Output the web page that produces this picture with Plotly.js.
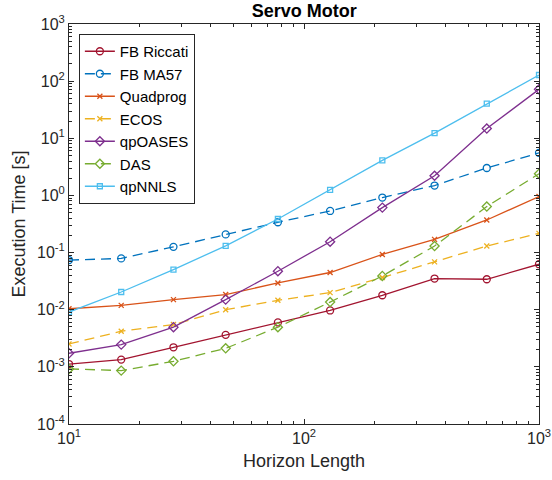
<!DOCTYPE html>
<html>
<head>
<meta charset="utf-8">
<script src="https://cdn.plot.ly/plotly-3.0.1.min.js"></script>
<style>html,body{margin:0;padding:0;background:#fff;}#chart{width:552px;height:480px;}</style>
</head>
<body>
<div id="chart"></div>
<script>
const horizon = [10, 16.68, 27.83, 46.42, 77.43, 129.15, 215.44, 359.38, 599.48, 1000];

const fbRiccati = [0.00112, 0.00134, 0.0022, 0.00363, 0.00598, 0.0097, 0.0179, 0.0351, 0.0341, 0.0626];
const fbMA57    = [0.074, 0.079, 0.126, 0.208, 0.339, 0.535, 0.918, 1.49, 3.02, 5.54];
const quadprog  = [0.0104, 0.0119, 0.015, 0.0184, 0.0294, 0.0448, 0.0927, 0.170, 0.372, 0.957];
const ecos      = [0.00252, 0.0042, 0.0055, 0.0100, 0.0146, 0.0199, 0.0366, 0.0687, 0.130, 0.217];
const qpOASES   = [0.00173, 0.00245, 0.00495, 0.015, 0.0472, 0.155, 0.612, 2.21, 14.8, 71.9];
const das       = [0.00092, 0.00086, 0.00125, 0.00211, 0.00495, 0.0136, 0.039, 0.13, 0.638, 2.40];
const qpNNLS    = [0.0091, 0.0204, 0.0505, 0.131, 0.387, 1.25, 4.11, 12.3, 40.3, 128];

const xTickExp = [1, 2, 3];
const yTickExp = [-4, -3, -2, -1, 0, 1, 2, 3];
const xTickVals = xTickExp.map(e => Math.pow(10, e));
const yTickVals = yTickExp.map(e => Math.pow(10, e));
const fmtExp = e => '10<sup>' + (e < 0 ? '-' + Math.abs(e) : e) + '</sup>';
const xTickText = xTickExp.map(fmtExp);
const yTickText = yTickExp.map(fmtExp);

const seriesDefs = [
  {name: 'FB Riccati', y: fbRiccati, color: '#A2142F', dash: 'solid', symbol: 'circle-open', size: 7},
  {name: 'FB MA57',    y: fbMA57,    color: '#0072BD', dash: '10px,6px', symbol: 'circle-open', size: 7},
  {name: 'Quadprog',   y: quadprog,  color: '#D95319', dash: 'solid', symbol: 'x-thin-open', size: 5},
  {name: 'ECOS',       y: ecos,      color: '#EDB120', dash: '10px,6px', symbol: 'x-thin-open', size: 5},
  {name: 'qpOASES',    y: qpOASES,   color: '#7E2F8E', dash: 'solid', symbol: 'diamond-open', size: 7},
  {name: 'DAS',        y: das,       color: '#77AC30', dash: '10px,6px', symbol: 'diamond-open', size: 7},
  {name: 'qpNNLS',     y: qpNNLS,    color: '#4DBEEE', dash: 'solid', symbol: 'square-open', size: 5}
];

const traces = seriesDefs.map(s => ({
  type: 'scatter',
  mode: 'lines+markers',
  name: s.name,
  x: horizon,
  y: s.y,
  line: {color: s.color, width: 1.3, dash: s.dash},
  marker: {symbol: s.symbol, size: s.size, color: s.color, line: {color: s.color, width: 1.3}}
}));

const axColor = '#262626';
const font = 'Liberation Sans, Arial, Helvetica, sans-serif';

const layout = {
  width: 552, height: 480,
  margin: {l: 69, r: 13, t: 24, b: 56},
  paper_bgcolor: '#ffffff', plot_bgcolor: '#ffffff',
  font: {family: font, color: axColor},
  title: {text: '<b>Servo Motor</b>', font: {size: 18, family: font, color: '#000'}, x: 0.551, xanchor: 'center', y: 0.977, yanchor: 'middle'},
  showlegend: true,
  legend: {
    x: 0.021, y: 0.975, xanchor: 'left', yanchor: 'top',
    bgcolor: '#ffffff', bordercolor: axColor, borderwidth: 1,
    font: {size: 15, family: font, color: '#000'},
    tracegroupgap: 0
  },
  xaxis: {
    type: 'log', range: [1, 3],
    tickvals: xTickVals, ticktext: xTickText,
    ticks: 'inside', ticklen: 5, tickwidth: 1, tickcolor: axColor,
    minor: {ticks: 'inside', ticklen: 3, tickwidth: 1, tickcolor: axColor, dtick: 'D1', showgrid: false},
    showline: true, linecolor: axColor, linewidth: 1, mirror: 'allticks',
    showgrid: false, zeroline: false,
    tickfont: {size: 16, family: font, color: axColor},
    title: {text: 'Horizon Length', font: {size: 18, family: font, color: axColor}, standoff: 8}
  },
  yaxis: {
    type: 'log', range: [-4, 3],
    tickvals: yTickVals, ticktext: yTickText,
    ticks: 'inside', ticklen: 5, tickwidth: 1, tickcolor: axColor,
    minor: {ticks: 'inside', ticklen: 3, tickwidth: 1, tickcolor: axColor, dtick: 'D1', showgrid: false},
    showline: true, linecolor: axColor, linewidth: 1, mirror: 'allticks',
    showgrid: false, zeroline: false,
    tickfont: {size: 16, family: font, color: axColor},
    title: {text: 'Execution Time [s]', font: {size: 18, family: font, color: axColor}, standoff: 6}
  }
};

Plotly.newPlot('chart', traces, layout, {displayModeBar: false, staticPlot: true});
</script>
</body>
</html>
